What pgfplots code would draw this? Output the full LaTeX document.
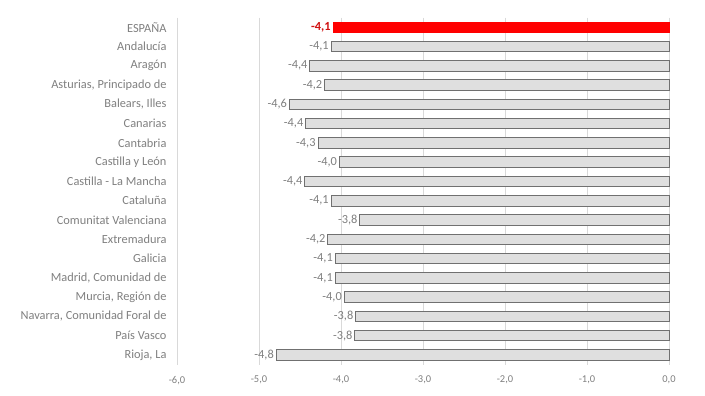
\documentclass[border=0pt]{standalone}
\usepackage{fontspec}
\setmainfont{Carlito}
\usepackage{pgfplots}
\pgfplotsset{compat=1.18}
\definecolor{txt}{HTML}{7F7F7F}
\definecolor{gridc}{HTML}{D9D9D9}
\definecolor{bord}{HTML}{707070}
\definecolor{barFill}{HTML}{DFDFDF}
\definecolor{esp}{HTML}{FF0000}
\definecolor{esplab}{HTML}{D01010}
\begin{document}
\begin{tikzpicture}
\useasboundingbox (0,0) rectangle (705bp,396bp);
\begin{axis}[
  at={(177bp,31.4bp)}, anchor=south west,
  scale only axis, width=492bp, height=347bp,
  xmin=-6, xmax=0, ymin=-0.5, ymax=17.5, y dir=reverse,
  xtick={-6,-5,-4,-3,-2,-1,0}, ytick={0,1,...,17},
  yticklabels={ESPAÑA, Andalucía, Aragón, {Asturias, Principado de}, {Balears, Illes}, Canarias, Cantabria, Castilla y León, Castilla - La Mancha, Cataluña, Comunitat Valenciana, Extremadura, Galicia, {Madrid, Comunidad de}, {Murcia, Región de}, {Navarra, Comunidad Foral de}, País Vasco, {Rioja, La}},
  axis line style={draw=none}, major tick length=0,
  xmajorgrids, ymajorgrids=false, grid style={gridc, line width=0.7pt},
  xticklabel style={font=\fontsize{10.5}{12}\selectfont, text=txt, yshift=-8bp},
  yticklabel style={font=\fontsize{12.4}{14}\selectfont, text=txt, xshift=-7bp},
  /pgf/number format/.cd, fixed, fixed zerofill, precision=1, use comma, assume math mode=true,
  /pgfplots/.cd,
  xbar, bar width=10.5bp, bar shift=0pt,
  nodes near coords, nodes near coords align=horizontal,
  every node near coord/.append style={font=\fontsize{12.4}{14}\selectfont, text=txt, inner sep=2bp},
  clip=false,
]
\addplot[draw=bord, line width=0.9pt, fill=barFill] coordinates {
  (-4.12,1) (-4.38,2) (-4.20,3) (-4.63,4) (-4.43,5) (-4.28,6) (-4.02,7) (-4.44,8) (-4.12,9)
  (-3.77,10) (-4.16,11) (-4.07,12) (-4.07,13) (-3.96,14) (-3.82,15) (-3.83,16) (-4.79,17)
};
\addplot[draw=esp, fill=esp, every node near coord/.append style={font=\fontsize{12.4}{14}\selectfont\bfseries, text=esplab}] coordinates {
  (-4.10,0)
};
\end{axis}
\end{tikzpicture}
\end{document}
